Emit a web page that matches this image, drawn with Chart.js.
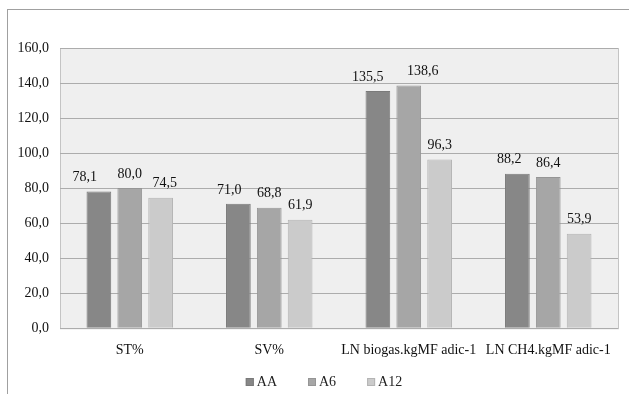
<!DOCTYPE html>
<html>
<head>
<meta charset="utf-8">
<script src="https://cdn.jsdelivr.net/npm/chart.js@4"></script>
<style>
  body { margin: 0; background: #fff; }
  .frame { position: absolute; left: 7px; top: 9px; width: 700px; height: 500px;
           border-left: 1px solid #a0a0a0; border-top: 1px solid #a0a0a0; }
  #chart { position: absolute; left: 0; top: 0; }
</style>
</head>
<body>
<div class="frame"></div>
<canvas id="chart" width="629" height="394"></canvas>
<script>
// Data
const categories = ["ST%", "SV%", "LN biogas.kgMF adic-1", "LN CH4.kgMF adic-1"];
const seriesNames = ["AA", "A6", "A12"];
const valuesAA = [78.1, 71.0, 135.5, 88.2];
const valuesA6 = [80.0, 68.8, 138.6, 86.4];
const valuesA12 = [74.5, 61.9, 96.3, 53.9];

const fills = ["#878787", "#a6a6a6", "#cbcbcb"];
const borders = ["#7a7a7a", "#959595", "#b4b4b4"];
// horizontal nudges of the value labels (the original moved some to avoid overlap)
const labelShift = [[-14, -9, -10, -8], [0, 0, 14, 0], [4, 0, 0, 0]];
const fmt = v => v.toFixed(1).replace(".", ",");
const serif = "'Liberation Serif', 'Times New Roman', serif";

// plot area background
const plotBg = {
  id: "plotBg",
  beforeDraw(chart) {
    const a = chart.chartArea, c = chart.ctx;
    c.save();
    c.fillStyle = "#efefef";
    c.fillRect(a.left, a.top, a.right - a.left, a.bottom - a.top);
    c.strokeStyle = "#c4c4c4";
    c.lineWidth = 1;
    c.strokeRect(a.left + 0.5, a.top + 0.5, a.right - a.left, a.bottom - a.top);
    c.restore();
  }
};

// value labels above the bars
const barLabels = {
  id: "barLabels",
  afterDatasetsDraw(chart) {
    const c = chart.ctx;
    c.save();
    c.font = "14px " + serif;
    c.fillStyle = "#111";
    c.textAlign = "center";
    c.textBaseline = "middle";
    chart.data.datasets.forEach((ds, i) => {
      chart.getDatasetMeta(i).data.forEach((bar, j) => {
        c.fillText(fmt(ds.data[j]), bar.x + labelShift[i][j], bar.y - 14);
      });
    });
    c.restore();
  }
};

// legend drawn by hand: small square right next to the text
const bottomLegend = {
  id: "bottomLegend",
  afterDraw(chart) {
    const c = chart.ctx;
    c.save();
    c.font = "14px " + serif;
    c.textBaseline = "middle";
    const box = 8, gap = 3, space = 31;
    const widths = seriesNames.map(n => box + gap + c.measureText(n).width);
    const total = widths.reduce((s, w) => s + w, 0) + space * (seriesNames.length - 1);
    let x = 324 - total / 2;
    const y = 382;
    seriesNames.forEach((n, i) => {
      c.fillStyle = fills[i];
      c.fillRect(x, y - box / 2, box, box);
      c.strokeStyle = borders[i];
      c.lineWidth = 1;
      c.strokeRect(x + 0.5, y - box / 2 + 0.5, box - 1, box - 1);
      c.fillStyle = "#222";
      c.textAlign = "left";
      c.fillText(n, x + box + gap, y);
      x += widths[i] + space;
    });
    c.restore();
  }
};

const allValues = [valuesAA, valuesA6, valuesA12];

new Chart(document.getElementById("chart"), {
  type: "bar",
  data: {
    labels: categories,
    datasets: seriesNames.map((name, i) => ({
      label: name,
      data: allValues[i],
      backgroundColor: fills[i],
      borderColor: borders[i],
      borderWidth: 1,
      categoryPercentage: 0.664,
      barPercentage: 0.8
    }))
  },
  options: {
    responsive: false,
    animation: false,
    layout: { padding: { top: 48, right: 11, left: 0, bottom: 29 } },
    plugins: {
      legend: { display: false },
      tooltip: { enabled: false }
    },
    scales: {
      x: {
        grid: { display: false },
        border: { display: false },
        ticks: { color: "#111", font: { family: serif, size: 14 }, maxRotation: 0, padding: 6 }
      },
      y: {
        min: 0,
        max: 160,
        afterFit(scale) { scale.width = 60; },
        ticks: {
          stepSize: 20,
          color: "#111",
          padding: 11,
          font: { family: serif, size: 14 },
          callback: v => fmt(v)
        },
        grid: { color: "#acacac", drawTicks: false },
        border: { display: false }
      }
    }
  },
  plugins: [plotBg, barLabels, bottomLegend]
});
</script>
</body>
</html>
